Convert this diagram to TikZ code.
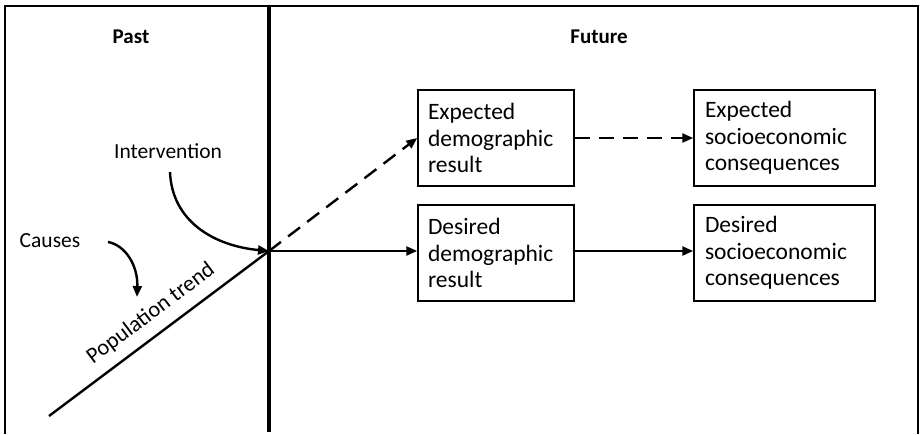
\documentclass[tikz,border=0pt]{standalone}
\usepackage{fontspec}
\setmainfont{Carlito}
\usetikzlibrary{arrows.meta}
\begin{document}
\begin{tikzpicture}[x=1pt,y=-1pt,
  lbl/.style={font=\fontsize{21.5}{25}\selectfont, inner sep=0pt},
  head/.style={font=\fontsize{21}{25}\selectfont\bfseries, inner sep=0pt},
  box/.style={draw, line width=1.5pt, font=\fontsize{23.5}{26.5}\selectfont,
    align=left, inner xsep=10pt, inner ysep=0pt},
  conn/.style={line width=2.4pt, -{Triangle[length=11pt,width=9pt]}},
  dsh/.style={dash pattern=on 15pt off 9pt},
  frame/.style={line width=1.5pt}]
\useasboundingbox (0,0) rectangle (921,434);
% frame
\draw[frame] (5,434) -- (5,6) -- (918,6) -- (918,434);
% divider
\draw[line width=3.2pt] (269,6) -- (269,432);
% headings
\node[head] (past) at (131,37) {Past};
\node[head] (future) at (599,37) {Future};
% origin and trend line
\coordinate (o) at (269,251);
\coordinate (t0) at (49,416);
\draw[line width=2.4pt] (t0) -- node[pos=0.52, above=10pt, sloped, font=\fontsize{22.5}{26}\selectfont, inner sep=0pt] (trend) {Population trend} (o);
% labels
\node[lbl] (interv) at (168,151) {Intervention};
\node[lbl] (causes) at (50,241) {Causes};
\coordinate (is) at (170,172);
\coordinate (cs) at (108,242);
\coordinate (ce) at (137,297);
% boxes
\node[box, minimum width=156pt, minimum height=96pt, text width=136pt] (ed) at (496,138) {Expected\\demographic\\result};
\node[box, minimum width=156pt, minimum height=96pt, text width=136pt] (dd) at (496,253) {Desired\\demographic\\result};
\node[box, minimum width=181pt, minimum height=96pt, text width=159pt, inner xsep=11pt] (es) at (784.5,138) {Expected\\socioeconomic\\consequences};
\node[box, minimum width=181pt, minimum height=96pt, text width=159pt, inner xsep=11pt] (ds) at (784.5,253) {Desired\\socioeconomic\\consequences};
% connectors
\draw[conn, dsh] (o) -- (ed.west);
\draw[conn] (o) -- (o -| dd.west);
\draw[conn, dsh] (ed.east) -- (es.west);
\draw[conn] (dd.east |- o) -- (ds.west |- o);
% curved arrows
\draw[conn] (is) .. controls (172,222) and (215,246) .. (o);
\draw[conn] (cs) .. controls (125,245) and (138,265) .. (ce);
\end{tikzpicture}
\end{document}
